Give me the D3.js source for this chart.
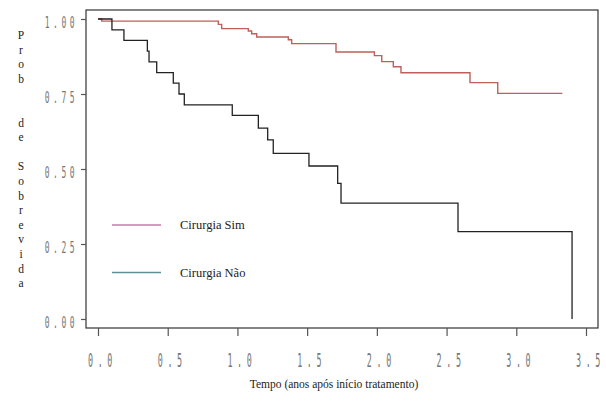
<!DOCTYPE html>
<html>
<head>
<meta charset="utf-8">
<script src="https://cdn.jsdelivr.net/npm/d3@7"></script>
<style>
  html, body { margin: 0; padding: 0; background: #fff; }
  svg { display: block; }
  .serif { font-family: "Liberation Serif", "DejaVu Serif", "Times New Roman", serif; }
  .mono { font-family: "DejaVu Sans Mono", "Liberation Mono", monospace; }
</style>
</head>
<body>
<svg id="chart" width="606" height="401"></svg>
<script>
// Kaplan–Meier survival estimates by surgery group
const seriesNames = ["Cirurgia Sim", "Cirurgia Não"];

const timesSim = [0, 0.027, 0.863, 0.887, 1.078, 1.102, 1.138, 1.365, 1.389, 1.707, 1.982, 2.035, 2.118, 2.173, 2.668, 2.867, 3.33];
const survSim  = [1.0, 0.993, 0.982, 0.968, 0.960, 0.951, 0.940, 0.931, 0.918, 0.890, 0.878, 0.858, 0.841, 0.821, 0.788, 0.752, 0.752];

const timesNao = [0, 0.100, 0.186, 0.354, 0.366, 0.421, 0.540, 0.581, 0.619, 0.963, 1.150, 1.217, 1.257, 1.513, 1.719, 1.743, 2.582, 3.400];
const survNao  = [1.0, 0.964, 0.929, 0.893, 0.857, 0.821, 0.786, 0.750, 0.714, 0.679, 0.636, 0.597, 0.552, 0.510, 0.452, 0.386, 0.291, 0.0];

const xTicks = [0, 0.5, 1.0, 1.5, 2.0, 2.5, 3.0, 3.5];
const yTicks = [0, 0.25, 0.5, 0.75, 1.0];

const yTitle = "Prob  de Sobrevida";
const xTitle = "Tempo (anos após início tratamento)";

const svg = d3.select("#chart");

const x = d3.scaleLinear().domain([0, 3.5]).range([98, 586]);
const y = d3.scaleLinear().domain([0, 1]).range([319, 19]);

const frame = { left: 86, top: 10, right: 598, bottom: 328 };

// plot frame
svg.append("rect")
  .attr("x", frame.left).attr("y", frame.top)
  .attr("width", frame.right - frame.left)
  .attr("height", frame.bottom - frame.top)
  .attr("fill", "none").attr("stroke", "#333").attr("stroke-width", 1.2);

// y axis
const yAxis = svg.append("g")
  .attr("transform", `translate(${frame.left},0)`)
  .call(d3.axisLeft(y).tickValues(yTicks).tickSize(5).tickPadding(0).tickFormat(d3.format(".2f")));
yAxis.select(".domain").remove();
yAxis.selectAll(".tick line").attr("stroke", "#555").attr("stroke-width", 1.2);
yAxis.selectAll(".tick text").remove();
yAxis.selectAll(".tick").append("text")
  .attr("class", "mono")
  .attr("transform", "translate(-8,8) scale(0.5,1)")
  .attr("text-anchor", "end")
  .attr("font-size", 16)
  .attr("letter-spacing", 7)
  .attr("fill", "#777")
  .text(d => d3.format(".2f")(d));

// x axis
const xAxis = svg.append("g")
  .attr("transform", `translate(0,${frame.bottom})`)
  .call(d3.axisBottom(x).tickValues(xTicks).tickSize(8).tickFormat(d3.format(".1f")));
xAxis.select(".domain").remove();
xAxis.selectAll(".tick line").attr("stroke", "#555").attr("stroke-width", 1.2);
xAxis.selectAll(".tick text").remove();
xAxis.selectAll(".tick").append("text")
  .attr("class", "mono")
  .attr("transform", "translate(4,39) scale(0.42,1)")
  .attr("text-anchor", "middle")
  .attr("font-size", 20)
  .attr("letter-spacing", 11)
  .attr("fill", "#777")
  .text(d => d3.format(".1f")(d));

// survival step curves
const line = d3.line()
  .x(d => x(d[0]))
  .y(d => y(d[1]))
  .curve(d3.curveStepAfter);

svg.append("path")
  .datum(d3.zip(timesSim, survSim))
  .attr("d", line)
  .attr("fill", "none").attr("stroke", "#bf5f5a").attr("stroke-width", 1.4);

svg.append("path")
  .datum(d3.zip(timesNao, survNao))
  .attr("d", line)
  .attr("fill", "none").attr("stroke", "#222").attr("stroke-width", 1.3);

// legend
const legendColors = ["#c97aa9", "#5f8f96"];
const legendY = [225, 272.5];
seriesNames.forEach((name, i) => {
  svg.append("line")
    .attr("x1", 112).attr("x2", 161)
    .attr("y1", legendY[i]).attr("y2", legendY[i])
    .attr("stroke", legendColors[i]).attr("stroke-width", 1.3);
  svg.append("text")
    .attr("class", "serif")
    .attr("x", 180).attr("y", legendY[i] + 4)
    .attr("font-size", 12.5)
    .attr("fill", "#222")
    .text(name);
});

// vertical y title, one letter per line
svg.append("g").selectAll("text")
  .data(yTitle.split(""))
  .join("text")
  .attr("class", "serif")
  .attr("x", 21)
  .attr("y", (d, i) => 39 + i * 14.6)
  .attr("text-anchor", "middle")
  .attr("font-size", 11.5)
  .attr("fill", "#222")
  .text(d => d.trim());

// x title
svg.append("text")
  .attr("class", "serif")
  .attr("x", 334).attr("y", 388)
  .attr("text-anchor", "middle")
  .attr("font-size", 11.5)
  .attr("fill", "#222")
  .text(xTitle);
</script>
</body>
</html>
